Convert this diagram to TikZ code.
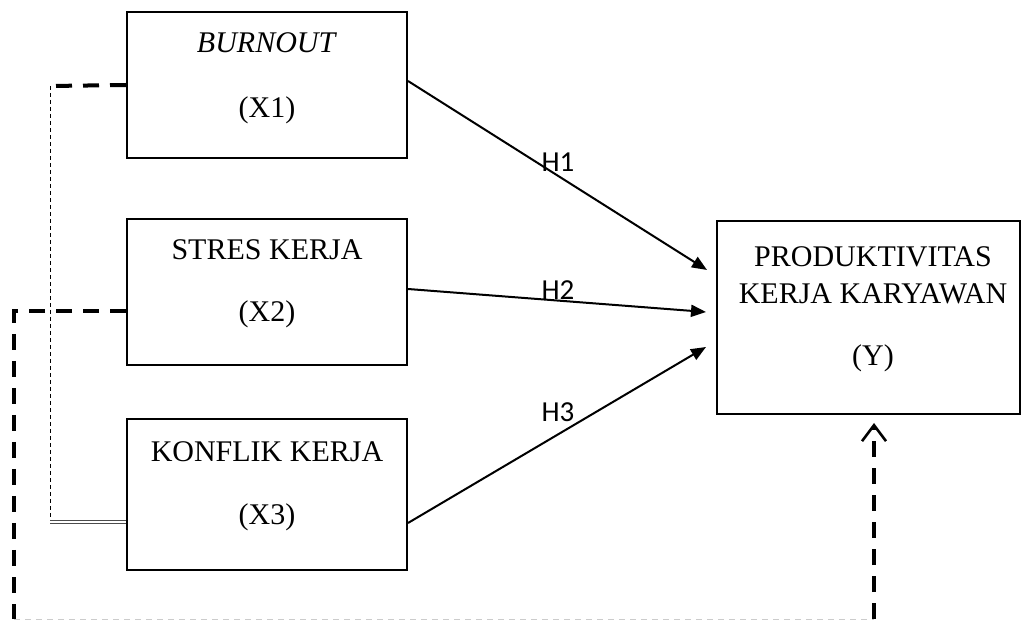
\documentclass[tikz,border=0pt]{standalone}
\usepackage{fontspec}
\setmainfont{Liberation Serif}
\newfontfamily\hfont{Carlito}
\usetikzlibrary{arrows.meta}

\begin{document}
\begin{tikzpicture}[x=0.5pt,y=-0.5pt,
    kotak/.style={draw, line width=1pt, minimum width=140pt, minimum height=73pt, inner sep=0pt},
    teks/.style={inner sep=0pt, font=\fontsize{15}{18}\selectfont},
    hip/.style={inner sep=0pt, font=\hfont\fontsize{14.5}{16}\selectfont},
    panah/.style={line width=1pt, -{Triangle[length=7.5pt,width=6pt]}},
    tebal/.style={line width=2pt, dash pattern=on 8pt off 5.5pt},
    tipis/.style={line width=0.5pt, dash pattern=on 2pt off 1.5pt}]
    \useasboundingbox (0,0) rectangle (1024,620);

    % kotak
    \node[kotak] (A) at (267,85) {};
    \node[kotak] (B) at (267,292) {};
    \node[kotak, minimum height=75.5pt] (C) at (267,494.5) {};
    \node[kotak, minimum width=151.5pt, minimum height=96.5pt] (Y) at (868.5,317.5) {};

    \node[teks] (A1) at (267,43) {\textit{BURNOUT}};
    \node[teks] (A2) at (267,110) {(X1)};
    \node[teks] (B1) at (267,250) {STRES KERJA};
    \node[teks] (B2) at (267,314) {(X2)};
    \node[teks] (C1) at (267,452) {KONFLIK KERJA};
    \node[teks] (C2) at (267,517) {(X3)};
    \node[teks] (Y1) at (873,257) {PRODUKTIVITAS};
    \node[teks] (Y2) at (873,294) {KERJA KARYAWAN};
    \node[teks] (Y3) at (873,358) {(Y)};

    % hipotesis
    \draw[panah] ([yshift=2pt]A.east) -- ([xshift=-4.5pt,yshift=23.75pt]Y.west);
    \draw[panah] ([yshift=1.5pt]B.east) -- ([xshift=-5pt,yshift=2.75pt]Y.west);
    \draw[panah] ([yshift=-14.25pt]C.east) -- ([xshift=-5pt,yshift=-14.75pt]Y.west);
    \node[hip] (H1) at (558,162) {H1};
    \node[hip] (H2) at (558,290) {H2};
    \node[hip] (H3) at (558,412) {H3};

    % garis kiri
    \coordinate (k1) at (50,86);
    \coordinate (k2) at (50,522);
    \coordinate (k3) at (14,311);
    \coordinate (k4) at (14,619);
    \coordinate (k5) at (874,619);

    \draw[tebal] (A.west) -- (k1);
    \draw[tipis] (k1) -- (k2);
    \draw[double=white, draw=black!70, double distance=0.9pt, line width=0.5pt] (k2) -- ([yshift=-13.75pt]C.west);

    \draw[tebal] ([yshift=-9.5pt]B.west) -- (k3) -- (k4);
    \draw[line width=0.5pt, black!20, dash pattern=on 3pt off 2.5pt] (k4) -- (k5);
    \draw[tebal, -{Straight Barb[length=8pt,width=12pt,line width=1.3pt]}] (k5) -- ([xshift=2.75pt,yshift=-4pt]Y.south);
\end{tikzpicture}
\end{document}
